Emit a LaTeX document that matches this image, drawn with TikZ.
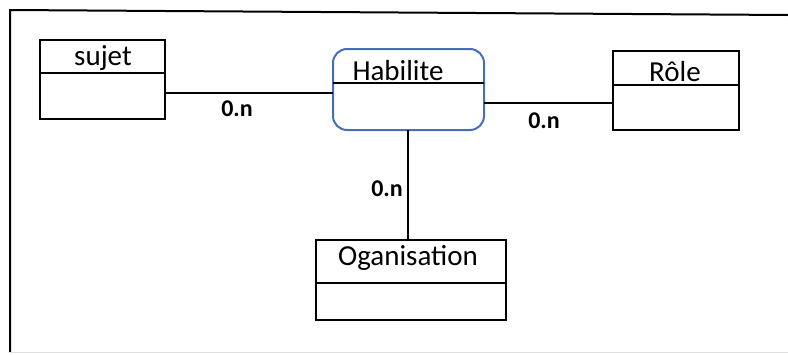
\documentclass[tikz,border=0pt]{standalone}
\usepackage{fontspec}
\setmainfont{Carlito}
\definecolor{habblue}{RGB}{70,110,185}
\begin{document}
\begin{tikzpicture}[x=0.5pt,y=-0.5pt,
  classbox/.style={draw=black,line width=1pt,minimum width=#1,inner sep=0pt,outer sep=0pt},
  title/.style={anchor=base,font=\fontsize{14.5}{16}\selectfont,inner sep=0pt},
  mult/.style={font=\fontsize{12}{14}\selectfont\bfseries,inner sep=0pt},
  link/.style={line width=1pt,black}]
\useasboundingbox (0,0) rectangle (788,354);
% page frame
\draw[line width=1pt] (10,352) -- (10,10) -- (788,15);
\draw[line width=0.5pt,black!12] (10,352) -- (788,352);

% classes
\node[classbox, minimum width=62.5pt, minimum height=39.5pt] (sujet) at (102.5,79.5) {};
\draw[line width=1pt] (40,73) -- (165,73);
\node[title] (sujetT) at (103,65) {sujet};

\node[draw=habblue,line width=1pt,rounded corners=7pt,minimum width=75.5pt,minimum height=40.5pt,inner sep=0pt,outer sep=0pt] (hab) at (408.5,89.5) {};
\draw[line width=1pt] (333,83) -- (484,83);
\node[title] (habT) at (398,80) {Habilite};

\node[classbox, minimum width=63pt, minimum height=39.5pt] (role) at (676,90.5) {};
\draw[line width=1pt] (613,85) -- (739,85);
\node[title] (roleT) at (675,81) {Rôle};

\node[classbox, minimum width=95pt, minimum height=40pt] (org) at (411,280) {};
\draw[line width=1pt] (316,283) -- (506,283);
\node[title] (orgT) at (408,265) {Oganisation};

% associations
\draw[link] (sujet.east |- 0,93) -- (hab.west |- 0,93);
\draw[link] (hab.east |- 0,103) -- (role.west |- 0,103);
\draw[link] (hab.south -| 408,0) -- (org.north -| 408,0);

% multiplicities
\node[mult] (m1) at (237,109) {0.n};
\node[mult] (m2) at (544,121) {0.n};
\node[mult] (m3) at (387,189) {0.n};
\end{tikzpicture}
\end{document}
